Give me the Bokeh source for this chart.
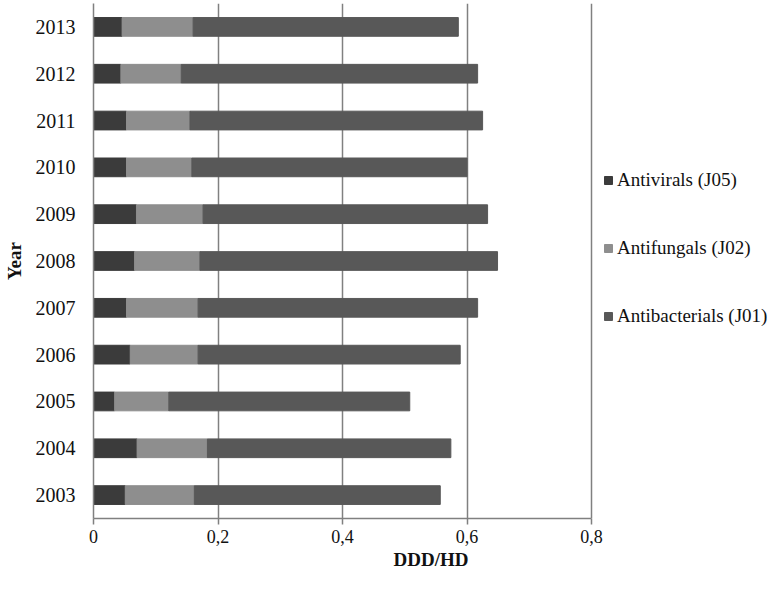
from bokeh.plotting import figure
from bokeh.models import FactorRange, Range1d, FixedTicker, Legend, ColumnDataSource
from bokeh.embed import file_html
from bokeh.resources import INLINE

years = ["2003", "2004", "2005", "2006", "2007", "2008", "2009", "2010", "2011", "2012", "2013"]
antivirals = [0.051, 0.070, 0.034, 0.059, 0.053, 0.066, 0.069, 0.053, 0.053, 0.044, 0.046]
antifungals = [0.111, 0.113, 0.087, 0.109, 0.115, 0.105, 0.107, 0.105, 0.102, 0.097, 0.114]
antibacterials = [0.395, 0.391, 0.387, 0.421, 0.449, 0.478, 0.457, 0.442, 0.470, 0.476, 0.426]

series_keys = ["J05", "J02", "J01"]
series_names = ["Antivirals (J05)", "Antifungals (J02)", "Antibacterials (J01)"]
series_colors = ["#3b3b3b", "#8e8e8e", "#585858"]

tick_values = [0, 0.2, 0.4, 0.6, 0.8]
tick_labels = ["0", "0,2", "0,4", "0,6", "0,8"]

source = ColumnDataSource(dict(year=years, J05=antivirals, J02=antifungals, J01=antibacterials))

FONT = "Liberation Serif"

W, H = 768, 574
LEFT, TOP, BOTTOM = 89, 3, 56
AXIS_PX = 501  # pixels spanned by 0..0.8
frame_w = W - LEFT
x_end = tick_values[-1] * frame_w / AXIS_PX  # frame extends right to host the legend

p = figure(width=W, height=H, output_backend="svg", toolbar_location=None,
           y_range=FactorRange(*years, range_padding=0), x_range=Range1d(0, x_end),
           min_border_left=LEFT, min_border_right=0, min_border_top=TOP, min_border_bottom=BOTTOM)
p.outline_line_color = None

renderers = p.hbar_stack(series_keys, y="year", height=0.4, color=series_colors, source=source)

legend = Legend(items=[(n, [r]) for n, r in zip(series_names, renderers)],
                location=(AXIS_PX + 9, 190), orientation="vertical",
                label_text_font=FONT, label_text_font_size="19px", label_text_color="#111111",
                glyph_width=10, glyph_height=10, label_standoff=4, label_height=24,
                spacing=44, padding=0, margin=0,
                border_line_color=None, background_fill_alpha=0)
p.add_layout(legend)

# x axis
p.xaxis.bounds = (tick_values[0], tick_values[-1])
p.xaxis.ticker = FixedTicker(ticks=tick_values)
p.xaxis.major_label_overrides = {v: l for v, l in zip(tick_values, tick_labels)}
p.xaxis.axis_label = "DDD/HD"
p.xaxis.axis_label_text_font = FONT
p.xaxis.axis_label_text_font_style = "bold"
p.xaxis.axis_label_text_font_size = "19px"
p.xaxis.axis_label_text_color = "#111111"
p.xaxis.axis_label_standoff = 3
p.xaxis.major_label_text_font = FONT
p.xaxis.major_label_text_font_size = "18px"
p.xaxis.major_label_text_color = "#111111"
p.xaxis.major_label_standoff = 5
p.xaxis.major_tick_out = 6
p.xaxis.major_tick_in = 0
p.xaxis.minor_tick_out = 0
p.xaxis.minor_tick_in = 0
p.xaxis.axis_line_color = "#808080"
p.xaxis.axis_line_width = 1.5
p.xaxis.major_tick_line_color = "#808080"
p.xaxis.major_tick_line_width = 1.5

# y axis
p.yaxis.axis_label = "Year"
p.yaxis.axis_label_text_font = FONT
p.yaxis.axis_label_text_font_style = "bold"
p.yaxis.axis_label_text_font_size = "19px"
p.yaxis.axis_label_text_color = "#111111"
p.yaxis.axis_label_standoff = 8
p.yaxis.major_label_text_font = FONT
p.yaxis.major_label_text_font_size = "20px"
p.yaxis.major_label_text_color = "#111111"
p.yaxis.major_label_standoff = 18
p.yaxis.major_tick_out = 0
p.yaxis.major_tick_in = 0
p.yaxis.axis_line_color = "#808080"
p.yaxis.axis_line_width = 1.5

p.xgrid.grid_line_color = "#808080"
p.xgrid.grid_line_width = 1.5
p.ygrid.grid_line_color = None

open("out.html", "w").write(file_html(p, INLINE))
